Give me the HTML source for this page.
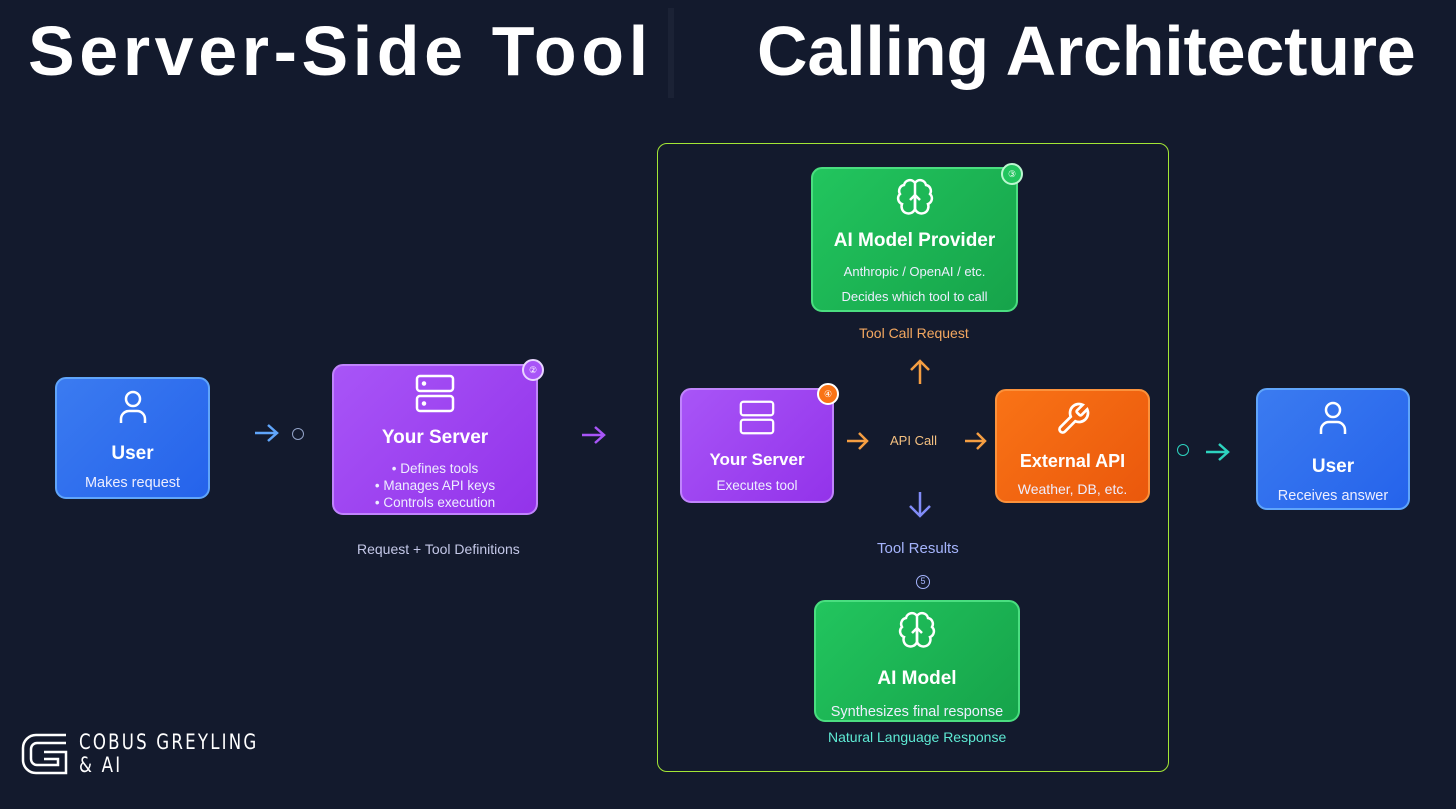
<!DOCTYPE html>
<html><head><meta charset="utf-8"><style>
*{margin:0;padding:0;box-sizing:border-box}
body{width:1456px;height:809px;background:#131a2d;position:relative;overflow:hidden;font-family:"Liberation Sans",sans-serif;color:#fff}
.a{position:absolute}
.t{font-size:70px;font-weight:bold;top:11px;color:#fff;white-space:nowrap}
.box{position:absolute;border-radius:11px;border:2.5px solid;text-align:center}
.blue{background:linear-gradient(135deg,#3b7bf0,#2563eb);border-color:#60a5fa}
.purple{background:linear-gradient(135deg,#a855f7,#9333ea);border-color:#c084fc}
.green{background:linear-gradient(135deg,#22c55e,#16a34a);border-color:#4ade80}
.orange{background:linear-gradient(135deg,#f97316,#ea580c);border-color:#fb923c}
.h{font-weight:bold;font-size:19px;position:absolute;left:0;right:0}
.s{font-size:14.5px;position:absolute;left:0;right:0;color:#eef}
.ic{position:absolute;left:50%;transform:translateX(-50%)}
.lbl{position:absolute;font-size:14px}
.badge{position:absolute;width:22px;height:22px;border-radius:50%;border:2px solid #fff;font-size:9px;text-align:center;line-height:18px}
</style></head><body>
<div class="a t" style="left:28px;letter-spacing:4.6px">Server-Side Tool</div>
<div class="a" style="left:668px;top:8px;width:6px;height:90px;background:#1b2235"></div>
<div class="a t" style="left:757px;letter-spacing:-0.2px">Calling Architecture</div>

<div class="a" style="left:657px;top:143px;width:512px;height:629px;border:1.5px solid #a3e635;border-radius:10px"></div>

<!-- User 1 -->
<div class="box blue" style="left:55px;top:377px;width:155px;height:122px">
<svg class="ic" style="top:8px" width="36" height="40" viewBox="0 0 36 40" fill="none" stroke="#fff" stroke-width="2.5"><circle cx="18" cy="12" r="7"/><path d="M6 36v-4a8 8 0 0 1 8-8h8a8 8 0 0 1 8 8v4"/></svg>
<div class="h" style="top:64px">User</div><div class="s" style="top:96px">Makes request</div></div>

<svg class="a" style="left:253px;top:422px" width="28" height="22" fill="none" stroke="#60a5fa" stroke-width="2.5"><path d="M2 11h22M15 3l9 8-9 8"/></svg>
<div class="a" style="left:292px;top:428px;width:12px;height:12px;border:1.5px solid #93a3c8;border-radius:50%"></div>

<!-- Your Server -->
<div class="box purple" style="left:332px;top:364px;width:206px;height:151px">
<svg class="ic" style="top:8px" width="40" height="40" viewBox="0 0 40 40" fill="none" stroke="#fff" stroke-width="2.5"><rect x="2" y="2" width="36" height="15" rx="3"/><rect x="2" y="22" width="36" height="15" rx="3"/><circle cx="9" cy="9.5" r="1" fill="#fff"/><circle cx="9" cy="29.5" r="1" fill="#fff"/></svg>
<div class="h" style="top:61px">Your Server</div>
<div class="s" style="top:94px;font-size:13.5px;line-height:17px">• Defines tools<br>• Manages API keys<br>• Controls execution</div></div>
<div class="badge" style="left:522px;top:359px;background:#a855f7;border-color:#e9d5ff">②</div>
<div class="lbl" style="left:357px;top:541px;color:#c4c8e8">Request + Tool Definitions</div>
<svg class="a" style="left:580px;top:424px" width="28" height="22" fill="none" stroke="#a855f7" stroke-width="2.5"><path d="M2 11h22M15 3l9 8-9 8"/></svg>

<!-- AI Model Provider -->
<div class="box green" style="left:811px;top:167px;width:207px;height:145px">
<svg class="ic" style="top:8px" width="40" height="40" viewBox="0 0 40 40" fill="none" stroke="#fff" stroke-width="2.5"><path d="M20 6a6 6 0 0 0-11 2 6 6 0 0 0-4 9 6 6 0 0 0 2 10 6 6 0 0 0 13 5zM20 6a6 6 0 0 1 11 2 6 6 0 0 1 4 9 6 6 0 0 1-2 10 6 6 0 0 1-13 5z"/><path d="M20 18v16M15 23l5-5 5 5"/></svg>
<div class="h" style="top:61px">AI Model Provider</div>
<div class="s" style="top:95px;font-size:13px">Anthropic / OpenAI / etc.</div>
<div class="s" style="top:120px;font-size:13px">Decides which tool to call</div></div>
<div class="badge" style="left:1001px;top:163px;background:#22c55e;border-color:#bbf7d0">③</div>
<div class="lbl" style="left:859px;top:325px;color:#f4a860">Tool Call Request</div>
<svg class="a" style="left:906px;top:358px" width="28" height="28" fill="none" stroke="#f59e42" stroke-width="2.5"><path d="M14 26V3M5 12l9-9 9 9"/></svg>

<!-- Your Server 2 -->
<div class="box purple" style="left:680px;top:388px;width:154px;height:115px">
<svg class="ic" style="top:10px" width="36" height="36" viewBox="0 0 40 40" fill="none" stroke="#fff" stroke-width="2.5"><rect x="2" y="2" width="36" height="15" rx="3"/><rect x="2" y="22" width="36" height="15" rx="3"/></svg>
<div class="h" style="top:60px;font-size:17px">Your Server</div>
<div class="s" style="top:88px;font-size:13.5px">Executes tool</div></div>
<div class="badge" style="left:817px;top:383px;background:#f97316;border-color:#fff">④</div>
<svg class="a" style="left:845px;top:430px" width="26" height="22" fill="none" stroke="#f59e42" stroke-width="2.5"><path d="M2 11h20M14 3l8 8-8 8"/></svg>
<div class="lbl" style="left:890px;top:433px;font-size:13px;color:#f4c080">API Call</div>
<svg class="a" style="left:963px;top:430px" width="26" height="22" fill="none" stroke="#f59e42" stroke-width="2.5"><path d="M2 11h20M14 3l8 8-8 8"/></svg>
<svg class="a" style="left:905px;top:490px" width="30" height="30" fill="none" stroke="#818cf8" stroke-width="2.5"><path d="M15 2v24M5 16l10 10 10-10"/></svg>
<div class="lbl" style="left:877px;top:540px;color:#a5b4fc;font-size:15px">Tool Results</div>
<div class="a" style="left:916px;top:575px;width:14px;height:14px;border:1.5px solid #a5b4fc;border-radius:50%;font-size:9px;color:#a5b4fc;text-align:center;line-height:11px">5</div>

<!-- External API -->
<div class="box orange" style="left:995px;top:389px;width:155px;height:114px">
<svg class="ic" style="top:10px" width="36" height="36" viewBox="0 0 24 24" fill="none" stroke="#fff" stroke-width="1.8"><path d="M14.7 6.3a1 1 0 0 0 0 1.4l1.6 1.6a1 1 0 0 0 1.4 0l3.77-3.77a6 6 0 0 1-7.940 7.94l-6.91 6.91a2.12 2.12 0 0 1-3-3l6.91-6.910a6 6 0 0 1 7.94-7.94l-3.76 3.76z"/></svg>
<div class="h" style="top:60px;font-size:18px">External API</div>
<div class="s" style="top:90px;font-size:14px">Weather, DB, etc.</div></div>

<div class="a" style="left:1177px;top:444px;width:12px;height:12px;border:1.5px solid #2dd4bf;border-radius:50%"></div>
<svg class="a" style="left:1204px;top:440px" width="28" height="24" fill="none" stroke="#2dd4bf" stroke-width="2.5"><path d="M2 12h22M15 4l9 8-9 8"/></svg>

<!-- User 2 -->
<div class="box blue" style="left:1256px;top:388px;width:154px;height:122px">
<svg class="ic" style="top:8px" width="36" height="40" viewBox="0 0 36 40" fill="none" stroke="#fff" stroke-width="2.5"><circle cx="18" cy="12" r="7"/><path d="M6 36v-4a8 8 0 0 1 8-8h8a8 8 0 0 1 8 8v4"/></svg>
<div class="h" style="top:66px">User</div><div class="s" style="top:98px">Receives answer</div></div>

<!-- AI Model -->
<div class="box green" style="left:814px;top:600px;width:206px;height:122px">
<svg class="ic" style="top:8px" width="40" height="40" viewBox="0 0 40 40" fill="none" stroke="#fff" stroke-width="2.5"><path d="M20 6a6 6 0 0 0-11 2 6 6 0 0 0-4 9 6 6 0 0 0 2 10 6 6 0 0 0 13 5zM20 6a6 6 0 0 1 11 2 6 6 0 0 1 4 9 6 6 0 0 1-2 10 6 6 0 0 1-13 5z"/><path d="M20 18v16M15 23l5-5 5 5"/></svg>
<div class="h" style="top:66px">AI Model</div>
<div class="s" style="top:102px">Synthesizes final response</div></div>
<div class="lbl" style="left:828px;top:729px;color:#5eead4;font-size:14px">Natural Language Response</div>

<!-- Logo -->
<svg class="a" style="left:20px;top:732px" width="48" height="44" fill="none" stroke="#fff" stroke-width="2.5"><path d="M46 3H16A13 13 0 0 0 3 16v12a13 13 0 0 0 13 13h30V20H24M46 11H17a6 6 0 0 0-6 6v10a6 6 0 0 0 6 6h21v-6H24"/></svg>
<div class="a" style="left:79px;top:731px;font-size:21px;letter-spacing:2.5px;line-height:23px;font-family:'DejaVu Sans Condensed','Liberation Sans Narrow',sans-serif;transform:scaleX(0.88);transform-origin:left">COBUS GREYLING<br>&amp; AI</div>
</body></html>
